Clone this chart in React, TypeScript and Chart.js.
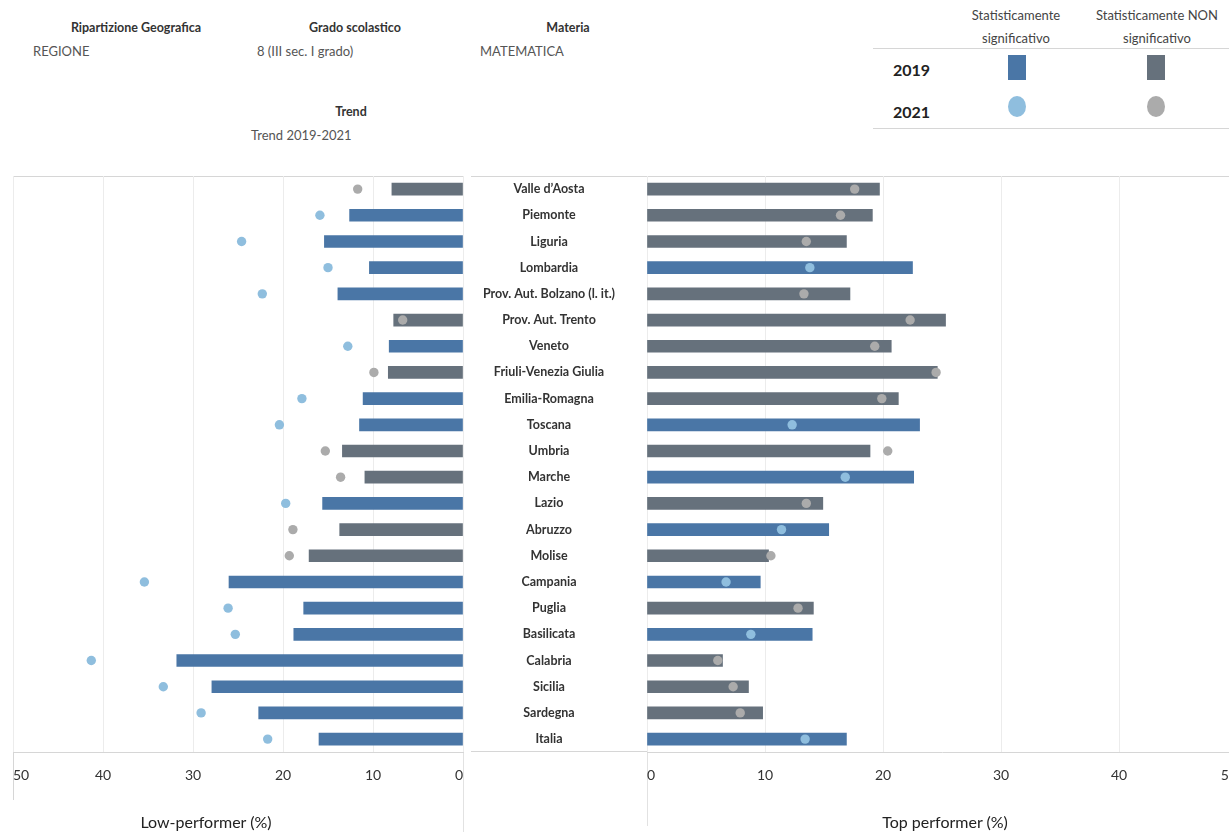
import React, { useEffect, useRef } from "react";
import { Chart, registerables } from "chart.js";

Chart.register(...registerables);

// ---------- DATA ----------
const regions = [
  "Valle d’Aosta",
  "Piemonte",
  "Liguria",
  "Lombardia",
  "Prov. Aut. Bolzano (l. it.)",
  "Prov. Aut. Trento",
  "Veneto",
  "Friuli-Venezia Giulia",
  "Emilia-Romagna",
  "Toscana",
  "Umbria",
  "Marche",
  "Lazio",
  "Abruzzo",
  "Molise",
  "Campania",
  "Puglia",
  "Basilicata",
  "Calabria",
  "Sicilia",
  "Sardegna",
  "Italia",
];

// Low-performer (%)
const low2019 = [7.9, 12.6, 15.4, 10.4, 13.9, 7.7, 8.2, 8.3, 11.1, 11.5, 13.4, 10.9, 15.6, 13.7, 17.1, 26.0, 17.7, 18.8, 31.8, 27.9, 22.7, 16.0];
const low2021 = [11.7, 15.9, 24.6, 15.0, 22.3, 6.7, 12.8, 9.9, 17.9, 20.4, 15.3, 13.6, 19.7, 18.9, 19.3, 35.4, 26.1, 25.3, 41.3, 33.3, 29.1, 21.7];
const lowSignificant = [false, true, true, true, true, false, true, false, true, true, false, false, true, false, false, true, true, true, true, true, true, true];

// Top performer (%)
const top2019 = [19.7, 19.1, 16.9, 22.5, 17.2, 25.3, 20.7, 24.6, 21.3, 23.1, 18.9, 22.6, 14.9, 15.4, 10.3, 9.6, 14.1, 14.0, 6.4, 8.6, 9.8, 16.9];
const top2021 = [17.6, 16.4, 13.5, 13.8, 13.3, 22.3, 19.3, 24.5, 19.9, 12.3, 20.4, 16.8, 13.5, 11.4, 10.5, 6.7, 12.8, 8.8, 6.0, 7.3, 7.9, 13.4];
const topSignificant = [false, false, false, true, false, false, false, false, false, true, false, true, false, true, false, true, false, true, false, false, false, true];

const axisTicks = [0, 10, 20, 30, 40, 50];

// ---------- STYLE ----------
const FONT = 'Lato, "Open Sans", sans-serif';
const BLUE_BAR = "#4a76a6";
const GREY_BAR = "#66717c";
const BLUE_DOT = "#8fbede";
const GREY_DOT = "#ababab";
const GRID = "#ececec";
const LINE = "#d6d6d6";

const W = 1229;
const H = 832;
const TOP = 176;
const BOTTOM_PAD = 33;

function measureWidest(labels: string[], font: string): number {
  const ctx = document.createElement("canvas").getContext("2d");
  if (!ctx) return 116;
  ctx.font = font;
  return Math.max(...labels.map((l) => ctx.measureText(l).width));
}

function xScale(mirror: boolean) {
  const maxV = axisTicks[axisTicks.length - 1];
  return {
    type: "linear" as const,
    min: mirror ? -maxV : axisTicks[0],
    max: mirror ? -axisTicks[0] : maxV,
    ticks: {
      stepSize: axisTicks[1] - axisTicks[0],
      align: "inner" as const,
      padding: 15,
      color: "#333333",
      font: { family: FONT, size: 14 },
      callback: (v: any) => String(Math.abs(Number(v))),
    },
    grid: {
      color: GRID,
      drawTicks: false,
      lineWidth: 1,
    },
    border: { color: LINE, width: 1 },
  };
}

function dotDataset(values: number[], sig: boolean[]) {
  return {
    type: "line",
    label: "2021",
    data: values,
    showLine: false,
    pointRadius: 4.7,
    pointHoverRadius: 4.7,
    pointBorderWidth: 0,
    pointBackgroundColor: sig.map((s) => (s ? BLUE_DOT : GREY_DOT)),
    order: 0,
  } as any;
}

function barDataset(values: number[], sig: boolean[]) {
  return {
    type: "bar",
    label: "2019",
    data: values,
    backgroundColor: sig.map((s) => (s ? BLUE_BAR : GREY_BAR)),
    barThickness: 12,
    order: 1,
  } as any;
}

// left canvas spans x = -30 .. 500 so that the plot area is 13 .. 463
const LEFT_CANVAS_X = -30;
const LEFT_CANVAS_W = 530;
// right canvas spans x = 470 .. 1270 so that the plot area is 647 .. 1237
const RIGHT_CANVAS_X = 470;
const RIGHT_CANVAS_W = 800;

export default function App() {
  const leftRef = useRef<HTMLCanvasElement>(null);
  const rightRef = useRef<HTMLCanvasElement>(null);

  useEffect(() => {
    if (!leftRef.current || !rightRef.current) return;

    const left = new Chart(leftRef.current, {
      type: "bar",
      data: {
        labels: regions,
        datasets: [
          dotDataset(low2021.map((v) => -v), lowSignificant),
          barDataset(low2019.map((v) => -v), lowSignificant),
        ],
      },
      options: {
        indexAxis: "y",
        animation: false,
        responsive: false,
        layout: {
          padding: { left: 13 - LEFT_CANVAS_X, right: LEFT_CANVAS_X + LEFT_CANVAS_W - 463, top: TOP, bottom: BOTTOM_PAD },
        },
        plugins: { legend: { display: false }, tooltip: { enabled: false } },
        scales: {
          x: xScale(true),
          y: { display: false },
        },
      } as any,
    });

    const labelFont = `bold 12.5px ${FONT}`;
    const widest = measureWidest(regions, labelFont);
    const labelCenter = 557 - RIGHT_CANVAS_X;
    const axisWidth = 647 - RIGHT_CANVAS_X;

    const right = new Chart(rightRef.current, {
      type: "bar",
      data: {
        labels: regions,
        datasets: [dotDataset(top2021, topSignificant), barDataset(top2019, topSignificant)],
      },
      options: {
        indexAxis: "y",
        animation: false,
        responsive: false,
        layout: {
          padding: { left: 0, right: RIGHT_CANVAS_X + RIGHT_CANVAS_W - 1237, top: TOP, bottom: BOTTOM_PAD },
        },
        plugins: { legend: { display: false }, tooltip: { enabled: false } },
        scales: {
          x: xScale(false),
          y: {
            type: "category",
            grid: { display: false },
            border: { display: false },
            ticks: {
              crossAlign: "center",
              padding: axisWidth - labelCenter - widest / 2,
              color: "#333333",
              font: { family: FONT, size: 12.5, weight: "bold" },
              autoSkip: false,
            },
            afterFit: (scale: any) => {
              scale.width = axisWidth;
            },
          },
        },
      } as any,
    });

    return () => {
      left.destroy();
      right.destroy();
    };
  }, []);

  const abs = (style: React.CSSProperties): React.CSSProperties => ({ position: "absolute", ...style });
  const text = (x: number, y: number, s: string, style: React.CSSProperties, align: "left" | "center" = "left") => (
    <div
      style={abs({
        left: x,
        top: y,
        transform: align === "center" ? "translate(-50%, -50%)" : "translate(0, -50%)",
        whiteSpace: "nowrap",
        fontFamily: FONT,
        lineHeight: 1,
        ...style,
      })}
    >
      {s}
    </div>
  );
  const hLine = (x1: number, x2: number, y: number, color = LINE) => (
    <div style={abs({ left: x1, top: y, width: x2 - x1, height: 1, background: color })} />
  );
  const vLine = (x: number, y1: number, y2: number, color = LINE) => (
    <div style={abs({ left: x, top: y1, width: 1, height: y2 - y1, background: color })} />
  );

  const headLabel: React.CSSProperties = { fontSize: 12.5, fontWeight: "bold", color: "#333" };
  const headValue: React.CSSProperties = { fontSize: 13, color: "#555" };
  const legHead: React.CSSProperties = { fontSize: 13, color: "#444" };
  const legYear: React.CSSProperties = { fontSize: 16, fontWeight: "bold", color: "#222" };

  return (
    <div style={{ position: "fixed", left: 0, top: 0, width: W, height: H, overflow: "hidden", background: "#fff" }}>
      {/* Header filters */}
      {text(136, 28, "Ripartizione Geografica", headLabel, "center")}
      {text(33, 51, "REGIONE", headValue)}
      {text(355, 28, "Grado scolastico", headLabel, "center")}
      {text(257, 51, "8 (III sec. I grado)", headValue)}
      {text(568, 28, "Materia", headLabel, "center")}
      {text(480, 51, "MATEMATICA", headValue)}
      {text(351, 112, "Trend", headLabel, "center")}
      {text(251, 135, "Trend 2019-2021", headValue)}

      {/* Legend */}
      {text(1016, 15, "Statisticamente", legHead, "center")}
      {text(1016, 38, "significativo", legHead, "center")}
      {text(1157, 15, "Statisticamente NON", legHead, "center")}
      {text(1157, 38, "significativo", legHead, "center")}
      {hLine(873, W, 48)}
      {text(893, 70, "2019", legYear)}
      {text(893, 112, "2021", legYear)}
      <div style={abs({ left: 1008, top: 55, width: 18, height: 25, background: BLUE_BAR })} />
      <div style={abs({ left: 1147, top: 55, width: 18, height: 25, background: GREY_BAR })} />
      <div style={abs({ left: 1008, top: 96, width: 18, height: 21, borderRadius: "50%", background: BLUE_DOT })} />
      <div style={abs({ left: 1147, top: 96, width: 18, height: 21, borderRadius: "50%", background: GREY_DOT })} />
      {hLine(873, W, 128)}

      {/* Panel frame decorations */}
      {hLine(13, 464, TOP)}
      {hLine(471, W, TOP)}
      {vLine(13, TOP, 800)}
      {hLine(471, 647, 751)}
      {vLine(463, 751, H, "#e2e2e2")}
      {vLine(647, 751, 826, "#e2e2e2")}

      <canvas ref={leftRef} width={LEFT_CANVAS_W} height={H} style={abs({ left: LEFT_CANVAS_X, top: 0 })} />
      <canvas ref={rightRef} width={RIGHT_CANVAS_W} height={H} style={abs({ left: RIGHT_CANVAS_X, top: 0 })} />

      {/* Axis titles */}
      {text(206, 822, "Low-performer (%)", { fontSize: 16, color: "#222" }, "center")}
      {text(945, 822, "Top performer (%)", { fontSize: 16, color: "#222" }, "center")}
    </div>
  );
}
